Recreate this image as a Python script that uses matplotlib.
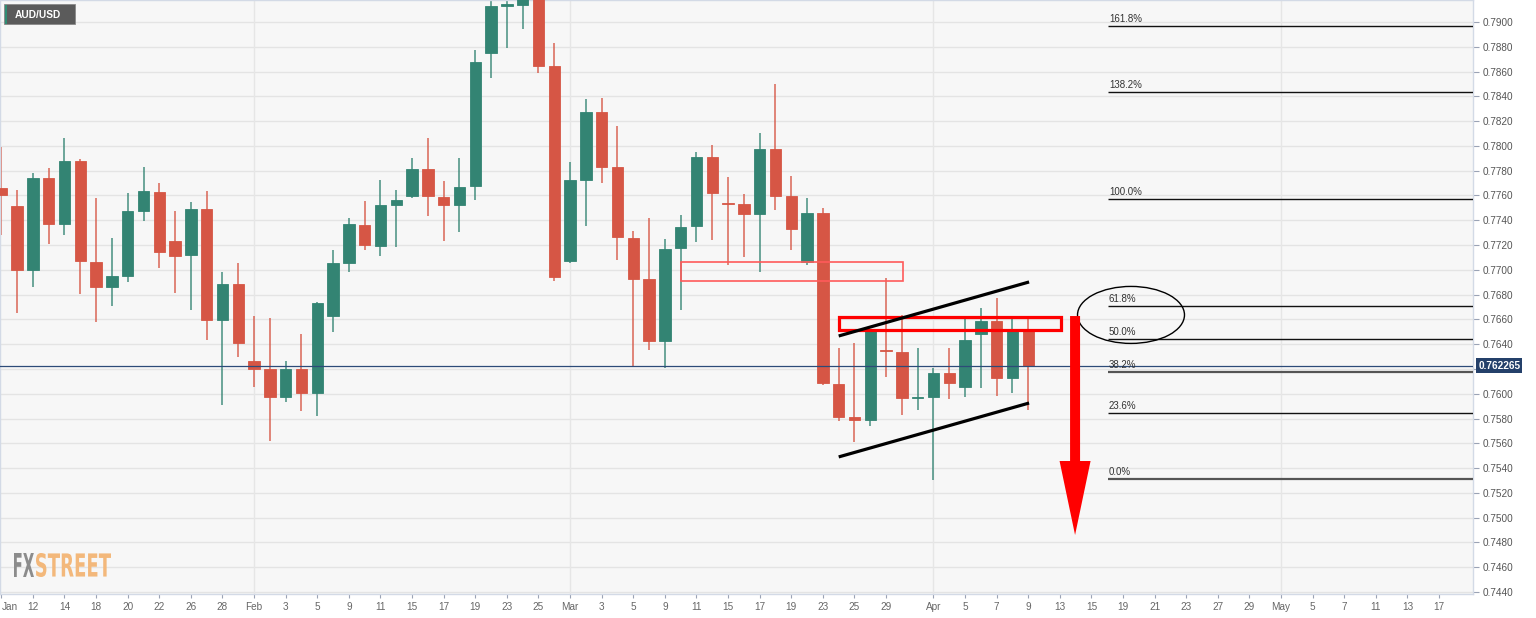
import matplotlib
matplotlib.use("Agg")
import matplotlib.pyplot as plt
import numpy as np
from matplotlib.patches import Rectangle, Ellipse, Polygon, PathPatch
from matplotlib.textpath import TextPath
from matplotlib.font_manager import FontProperties
from matplotlib.transforms import Affine2D, IdentityTransform, blended_transform_factory

# ---------------- data (AUD/USD daily, Jan 8 .. Apr 9 2021) ----------------
opens = [0.77660, 0.77515, 0.76999, 0.77741, 0.77370, 0.77878, 0.77063, 0.76861, 0.76950, 0.77475,
         0.77628, 0.77233, 0.77120, 0.77491, 0.76595, 0.76886, 0.76264, 0.76200, 0.75974, 0.76200,
         0.76006, 0.76627, 0.77055, 0.77362, 0.77192, 0.77523, 0.77596, 0.77814, 0.77588, 0.77523,
         0.77677, 0.78750, 0.79129, 0.79137, 0.79630, 0.78645, 0.77071, 0.77725, 0.78274, 0.77830,
         0.77257, 0.76926, 0.76426, 0.77176, 0.77354, 0.77911, 0.77539, 0.77531, 0.77451, 0.77975,
         0.77596, 0.77063, 0.77459, 0.76079, 0.75812, 0.75788, 0.76349, 0.76337, 0.75962, 0.75974,
         0.76167, 0.76054, 0.76482, 0.76587, 0.76127, 0.76506]
highs = [0.77991, 0.77644, 0.77781, 0.77822, 0.78064, 0.77894, 0.77580, 0.77257, 0.77620, 0.77830,
         0.77701, 0.77475, 0.77547, 0.77636, 0.76983, 0.77055, 0.76627, 0.76611, 0.76264, 0.76482,
         0.76740, 0.77160, 0.77418, 0.77555, 0.77725, 0.77644, 0.77902, 0.78064, 0.77717, 0.77902,
         0.78774, 0.79370, 0.79500, 0.79750, 0.80070, 0.78831, 0.77870, 0.78379, 0.78387, 0.78161,
         0.77313, 0.77418, 0.77249, 0.77442, 0.77951, 0.78007, 0.77749, 0.77612, 0.78104, 0.78500,
         0.77757, 0.77580, 0.77499, 0.76369, 0.76410, 0.76520, 0.76934, 0.76636, 0.76369, 0.76208,
         0.76369, 0.76603, 0.76692, 0.76773, 0.76603, 0.76619]
lows = [0.77281, 0.76652, 0.76861, 0.77208, 0.77281, 0.76805, 0.76579, 0.76708, 0.76902, 0.77394,
        0.77015, 0.76813, 0.76676, 0.76434, 0.75909, 0.76297, 0.76054, 0.75619, 0.75934, 0.75861,
        0.75820, 0.76498, 0.76983, 0.77160, 0.77112, 0.77184, 0.77580, 0.77434, 0.77233, 0.77305,
        0.77564, 0.78548, 0.78790, 0.78944, 0.78588, 0.76910, 0.77055, 0.77354, 0.77701, 0.77079,
        0.76216, 0.76353, 0.76208, 0.76676, 0.77225, 0.77241, 0.77039, 0.77104, 0.76983, 0.77483,
        0.77160, 0.77039, 0.76070, 0.75780, 0.75611, 0.75740, 0.76135, 0.75829, 0.75869, 0.75304,
        0.75958, 0.75974, 0.76046, 0.75982, 0.76006, 0.75869]
closes = [0.77604, 0.76999, 0.77741, 0.77370, 0.77878, 0.77071, 0.76861, 0.76950, 0.77475, 0.77636,
          0.77144, 0.77112, 0.77491, 0.76595, 0.76886, 0.76410, 0.76200, 0.75974, 0.76200, 0.76006,
          0.76732, 0.77055, 0.77370, 0.77200, 0.77523, 0.77564, 0.77814, 0.77596, 0.77523, 0.77668,
          0.78677, 0.79129, 0.79145, 0.79630, 0.78645, 0.76942, 0.77725, 0.78274, 0.77830, 0.77265,
          0.76926, 0.76426, 0.77168, 0.77346, 0.77911, 0.77620, 0.77531, 0.77451, 0.77975, 0.77596,
          0.77330, 0.77459, 0.76087, 0.75812, 0.75788, 0.76514, 0.76341, 0.75966, 0.75970, 0.76167,
          0.76087, 0.76434, 0.76587, 0.76127, 0.76506, 0.762265]

last_price = 0.762265

tick_pos = [0, 2, 4, 6, 8, 10, 12, 14, 16, 18, 20, 22, 24, 26, 28, 30, 32, 34, 36, 38, 40, 42, 44,
            46, 48, 50, 52, 54, 56, 59, 61, 63, 65, 67, 69, 71, 73, 75, 77, 79, 81, 83, 85, 87, 89, 91]
tick_labels = ["Jan", "12", "14", "18", "20", "22", "26", "28", "Feb", "3", "5", "9", "11", "15", "17",
               "19", "23", "25", "Mar", "3", "5", "9", "11", "15", "17", "19", "23", "25", "29",
               "Apr", "5", "7", "9", "13", "15", "19", "21", "23", "27", "29", "May", "5", "7", "11",
               "13", "17"]
month_starts = [16, 36, 59, 81]

fib_low = 0.75312
fib_high = 0.77572
fib_ratios = [1.618, 1.382, 1.0, 0.618, 0.5, 0.382, 0.236, 0.0]
fib_start = 70.05

thin_box = [43.0, 57.07, 0.76910, 0.77063]      # x0, x1, y0, y1
thick_box = [53.0, 67.1, 0.76514, 0.76619]
upper_trend = [(53.0, 0.76466), (65.05, 0.76902)]
lower_trend = [(53.0, 0.75490), (65.05, 0.75925)]
ellipse_c = (71.5, 0.76636)
ellipse_wh = (6.77, 0.0046)
arrow_x = 67.96
arrow_top, arrow_head, arrow_tip = 0.76627, 0.75457, 0.7486

assert len(opens) == len(highs) == len(lows) == len(closes) == 66
assert len(tick_pos) == len(tick_labels)

# ---------------- figure ----------------
W, H = 1536, 618
fig = plt.figure(figsize=(W / 100, H / 100), dpi=100, facecolor="white")
ax_l, ax_r, ax_t, ax_b = 0, 1473, 0, 594
ax = fig.add_axes([ax_l / W, (H - ax_b) / H, (ax_r - ax_l) / W, (ax_b - ax_t) / H])
ax.set_facecolor("#f7f7f7")

px_per_day = 15.8
x0_px = 1.3
ax.set_xlim((0 - x0_px) / px_per_day, (ax_r - x0_px) / px_per_day)
ppu = 12391.0
ax.set_ylim(0.79 - (ax_b - 22) / ppu, 0.79 + 22 / ppu)

font = "Liberation Sans"
GREEN = "#338473"
RED = "#d65645"

# grid
yt = np.round(np.arange(0.7440, 0.79001, 0.002), 4)
for y in yt:
    ax.axhline(y, color="#e4e4e4", lw=1.0, zorder=0)
for m in month_starts:
    ax.axvline(m, color="#e6e6e6", lw=1.0, zorder=0)

# candles
body_w = 0.73
for i, (o, h, l, c) in enumerate(zip(opens, highs, lows, closes)):
    col = GREEN if c >= o else RED
    ax.vlines(i, l, h, color=col, lw=1.1, alpha=0.9, zorder=2)
    bot = min(o, c)
    hgt = max(abs(c - o), 0.00012)
    ax.add_patch(Rectangle((i - body_w / 2, bot), body_w, hgt, fc=col, ec=col, lw=0.6, zorder=3))

# current price line
ax.axhline(last_price, color="#2d4b78", lw=0.9, zorder=4)

# fib levels
x_end = ax.get_xlim()[1]
for r in fib_ratios:
    lvl = fib_low + r * (fib_high - fib_low)
    lw, col = (1.6, "#555555") if r in (0.382, 0.0) else (1.0, "#111111")
    ax.plot([fib_start, x_end], [lvl, lvl], color=col, lw=lw, zorder=4, solid_capstyle="butt")
    ax.annotate(f"{r * 100:.1f}%", (fib_start + 0.05, lvl), xytext=(0, 1.5),
                textcoords="offset points", fontsize=7, color="#333333", family=font,
                ha="left", va="bottom", zorder=5)

# annotations
ax.add_patch(Rectangle((thin_box[0], thin_box[2]), thin_box[1] - thin_box[0], thin_box[3] - thin_box[2],
                       fill=False, ec="#ff5a5a", lw=1.2, zorder=5))
ax.add_patch(Rectangle((thick_box[0], thick_box[2]), thick_box[1] - thick_box[0], thick_box[3] - thick_box[2],
                       fill=False, ec="#ff0000", lw=2.3, zorder=6))
for seg in (upper_trend, lower_trend):
    ax.plot([seg[0][0], seg[1][0]], [seg[0][1], seg[1][1]], color="black", lw=2.3,
            solid_capstyle="butt", zorder=6)
ax.add_patch(Ellipse(ellipse_c, ellipse_wh[0], ellipse_wh[1], fill=False, ec="black", lw=1.0, zorder=6))

sh = 5.0 / px_per_day
hh = 15.5 / px_per_day
ax.add_patch(Polygon([(arrow_x - sh, arrow_top), (arrow_x + sh, arrow_top), (arrow_x + sh, arrow_head),
                      (arrow_x + hh, arrow_head), (arrow_x, arrow_tip), (arrow_x - hh, arrow_head),
                      (arrow_x - sh, arrow_head)], closed=True, fc="#ff0000", ec="none", zorder=7))

# axes styling
ax.yaxis.tick_right()
ax.set_yticks(yt)
# the 0.7620 label is hidden behind the current-price marker in the reference
ax.set_yticklabels(["" if abs(v - 0.7620) < 1e-6 else f"{v:.4f}" for v in yt])
ax.set_xticks(tick_pos)
ax.set_xticklabels(tick_labels)
ax.tick_params(axis="y", direction="out", length=4, width=0.8, color="#9aa3b5", pad=3,
               labelsize=7.2, labelcolor="#555555")
ax.tick_params(axis="x", direction="out", length=3, width=0.8, color="#9aa3b5", pad=3,
               labelsize=7.2, labelcolor="#666666")
for lab in ax.get_xticklabels() + ax.get_yticklabels():
    lab.set_family(font)
first = ax.get_xticklabels()[0]
first.set_horizontalalignment("left")
for s in ("left", "top", "bottom", "right"):
    ax.spines[s].set_color("#d3dae6")
    ax.spines[s].set_linewidth(1.0)

# price label on axis
ax.text(1.0035, last_price, f"{last_price:.6f}",
        transform=blended_transform_factory(ax.transAxes, ax.transData),
        ha="left", va="center", color="white", fontsize=7.2, fontweight="bold", family=font,
        bbox=dict(boxstyle="square,pad=0.22", fc="#24406a", ec="none"), clip_on=False, zorder=10)

# AUD/USD badge
fig.add_artist(Rectangle((4, H - 24), 71, 20, transform=IdentityTransform(), fc="#5b5b5b",
                         ec="#8a8a8a", lw=0.6))
fig.add_artist(Rectangle((4.5, H - 23.5), 2, 19, transform=IdentityTransform(), fc="#2f8c74", ec="none"))
fig.text(15 / W, 1 - 14.5 / H, "AUD/USD", ha="left", va="center", color="white", fontsize=7.3,
         fontweight="bold", family=font)

# FXSTREET watermark
fp = FontProperties(family="DejaVu Sans", weight="bold")


def draw_word(text, x0, x1, ytop, ybot, color):
    tp = TextPath((0, 0), text, size=100, prop=fp)
    ext = tp.get_extents()
    sx = (x1 - x0) / ext.width
    sy = (ybot - ytop) / ext.height
    tr = Affine2D().translate(-ext.x0, -ext.y0).scale(sx, sy).translate(x0, H - ybot)
    fig.add_artist(PathPatch(tr.transform_path(tp), fc=color, ec="none", transform=IdentityTransform()))


draw_word("FX", 14, 34, 553, 577, "#8c8c8c")
draw_word("STREET", 36, 111, 553, 577, "#f3b87b")

fig.savefig("out.png", dpi=100, facecolor="white")
